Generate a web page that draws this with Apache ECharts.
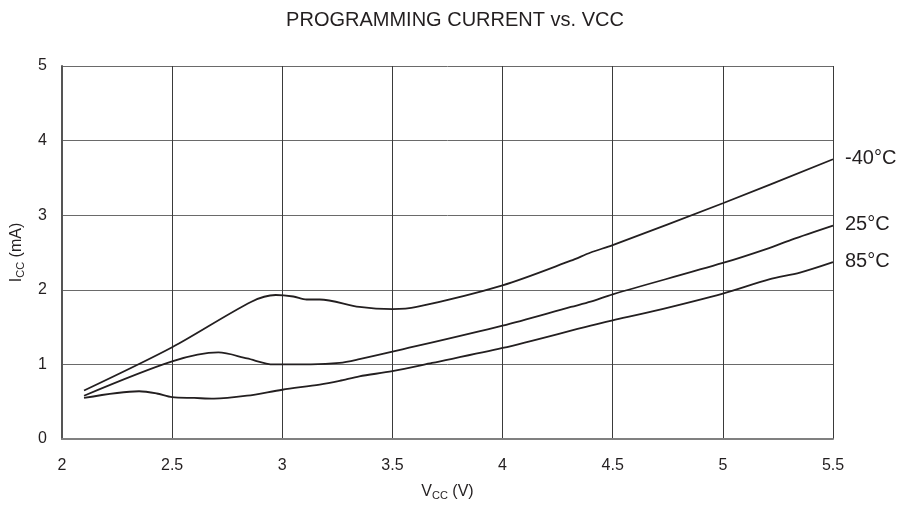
<!DOCTYPE html>
<html><head><meta charset="utf-8">
<script src="https://cdn.jsdelivr.net/npm/echarts@6/dist/echarts.min.js"></script>
<style>html,body{margin:0;padding:0;background:#fff}#c{width:910px;height:510px}</style>
</head><body><div id="c"></div>
<script>
var title = 'PROGRAMMING CURRENT vs. VCC';
var xTicks = [2, 2.5, 3, 3.5, 4, 4.5, 5, 5.5];
var yTicks = [0, 1, 2, 3, 4, 5];
var seriesNames = ['-40°C', '25°C', '85°C'];
var vM40 = [2.1, 2.5, 2.86, 2.97, 3.05, 3.11, 3.17, 3.35, 3.5, 3.61, 4.0, 4.31, 4.4, 4.5, 5.0, 5.5];
var iM40 = [0.65, 1.23, 1.84, 1.93, 1.91, 1.87, 1.87, 1.77, 1.74, 1.77, 2.06, 2.39, 2.50, 2.60, 3.16, 3.75];
var v25 = [2.1, 2.5, 2.71, 2.84, 2.96, 3.13, 3.26, 3.35, 3.5, 4.0, 4.31, 4.4, 4.5, 5.0, 5.21, 5.31, 5.5];
var i25 = [0.58, 1.04, 1.16, 1.08, 1.0, 1.0, 1.02, 1.07, 1.17, 1.52, 1.77, 1.84, 1.94, 2.36, 2.56, 2.67, 2.86];
var v85 = [2.1, 2.35, 2.43, 2.5, 2.6, 2.69, 2.84, 3.0, 3.17, 3.26, 3.35, 3.5, 3.68, 4.0, 4.4, 4.5, 4.68, 5.0, 5.21, 5.35, 5.5];
var i85 = [0.55, 0.64, 0.61, 0.56, 0.55, 0.54, 0.58, 0.66, 0.73, 0.78, 0.84, 0.91, 1.02, 1.22, 1.52, 1.59, 1.71, 1.95, 2.14, 2.23, 2.37];

function pairs(v, i) { return v.map(function (x, k) { return [x, i[k]]; }); }
var FONT = 'Liberation Sans, Arial, sans-serif';
var INK = '#231f20';
function mk(name, v, i) {
  return {
    name: name, type: 'line', data: pairs(v, i), smooth: 0.3, symbol: 'none',
    lineStyle: { color: INK, width: 1.8 },
    endLabel: { show: true, formatter: name, color: INK, fontSize: 20, fontFamily: FONT, distance: 12, offset: [0, -1] }
  };
}
var subStyle = { fontSize: 11, verticalAlign: 'bottom', padding: [7, 0, 0, 0], fontFamily: FONT, color: INK };
var chart = echarts.init(document.getElementById('c'), null, { renderer: 'canvas' });
chart.setOption({
  animation: false,
  backgroundColor: '#fff',
  title: { text: title, left: 'center', top: 5, textStyle: { fontFamily: FONT, fontSize: 20, fontWeight: 'normal', color: INK } },
  grid: { left: 62, right: 77, top: 66, bottom: 71 },
  xAxis: {
    type: 'value', min: 2, max: 5.5, interval: 0.5,
    name: 'V{sub|CC} (V)', nameLocation: 'middle', nameGap: 44,
    nameTextStyle: { fontFamily: FONT, fontSize: 16, color: INK, rich: { sub: subStyle } },
    axisLine: { show: true, lineStyle: { color: '#808080', width: 2 } },
    axisTick: { show: false },
    axisLabel: { fontFamily: FONT, fontSize: 16, color: INK, margin: 19, formatter: function (v) { return String(v); } },
    splitLine: { show: true, lineStyle: { color: '#3a3a3a', width: 1 } }
  },
  yAxis: {
    type: 'value', min: 0, max: 5, interval: 1,
    name: 'I{sub|CC} (mA)', nameLocation: 'middle', nameGap: 36, nameRotate: 90,
    nameTextStyle: { fontFamily: FONT, fontSize: 16, color: INK, rich: { sub: subStyle } },
    axisLine: { show: true, lineStyle: { color: '#555', width: 2 } },
    axisTick: { show: false },
    axisLabel: { fontFamily: FONT, fontSize: 16, color: INK, margin: 15 },
    splitLine: { show: true, lineStyle: { color: '#6a6a6a', width: 1 } }
  },
  series: [mk(seriesNames[0], vM40, iM40), mk(seriesNames[1], v25, i25), mk(seriesNames[2], v85, i85)]
});
</script></body></html>
